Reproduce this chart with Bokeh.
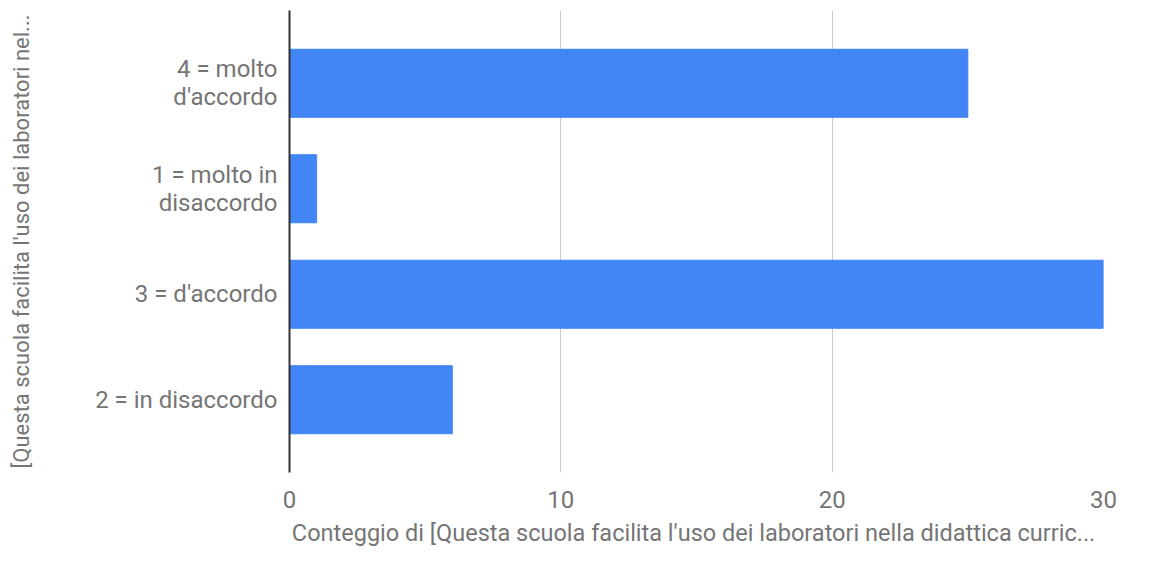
from bokeh.plotting import figure
from bokeh.models import FactorRange, Range1d, FixedTicker
from bokeh.embed import file_html
from bokeh.resources import INLINE

categories = ["2 = in disaccordo", "3 = d'accordo", "1 = molto in\ndisaccordo", "4 = molto\nd'accordo"]
counts = [6, 30, 1, 25]
x_ticks = [0, 10, 20, 30]
series_name = "Conteggio di  [Questa scuola facilita l'uso dei laboratori nella didattica curric..."
y_title = "[Questa scuola facilita l'uso dei laboratori nel..."

FONT = "Roboto"
TXT = "#757575"
FS = "24px"

p = figure(width=1146, height=552, output_backend="svg", toolbar_location=None,
           y_range=FactorRange(factors=categories, range_padding=0.19, range_padding_units="absolute"),
           x_range=Range1d(0, 30),
           min_border_left=289, min_border_right=43, min_border_top=10, min_border_bottom=80)
p.outline_line_color = None

r = p.hbar(y=categories, right=counts, left=0, height=0.645, color="#4285F4")

p.xaxis.ticker = FixedTicker(ticks=x_ticks)
p.xaxis.axis_line_color = None
p.xaxis.major_tick_line_color = None
p.xaxis.minor_tick_line_color = None
p.xaxis.major_label_standoff = 12
p.xaxis.major_label_text_font = FONT
p.xaxis.major_label_text_font_size = FS
p.xaxis.major_label_text_color = TXT
p.xaxis.axis_label = series_name
p.xaxis.axis_label_text_font = FONT
p.xaxis.axis_label_text_font_size = "23.5px"
p.xaxis.axis_label_text_font_style = "normal"
p.xaxis.axis_label_text_color = TXT
p.xaxis.axis_label_standoff = 8

p.yaxis.axis_line_color = "#333333"
p.yaxis.axis_line_width = 2
p.yaxis.major_tick_line_color = None
p.yaxis.minor_tick_line_color = None
p.yaxis.major_tick_out = 0
p.yaxis.major_label_standoff = 12
p.yaxis.major_label_text_font = FONT
p.yaxis.major_label_text_font_size = FS
p.yaxis.major_label_text_color = TXT
p.yaxis.major_label_text_align = "right"
p.yaxis.major_label_text_line_height = 1.0
p.yaxis.axis_label = y_title
p.yaxis.axis_label_text_font = FONT
p.yaxis.axis_label_text_font_size = "22px"
p.yaxis.axis_label_text_font_style = "normal"
p.yaxis.axis_label_text_color = TXT
p.yaxis.axis_label_standoff = 58

p.xgrid.grid_line_color = "#cccccc"
p.ygrid.grid_line_color = None

open("out.html", "w").write(file_html(p, INLINE))
